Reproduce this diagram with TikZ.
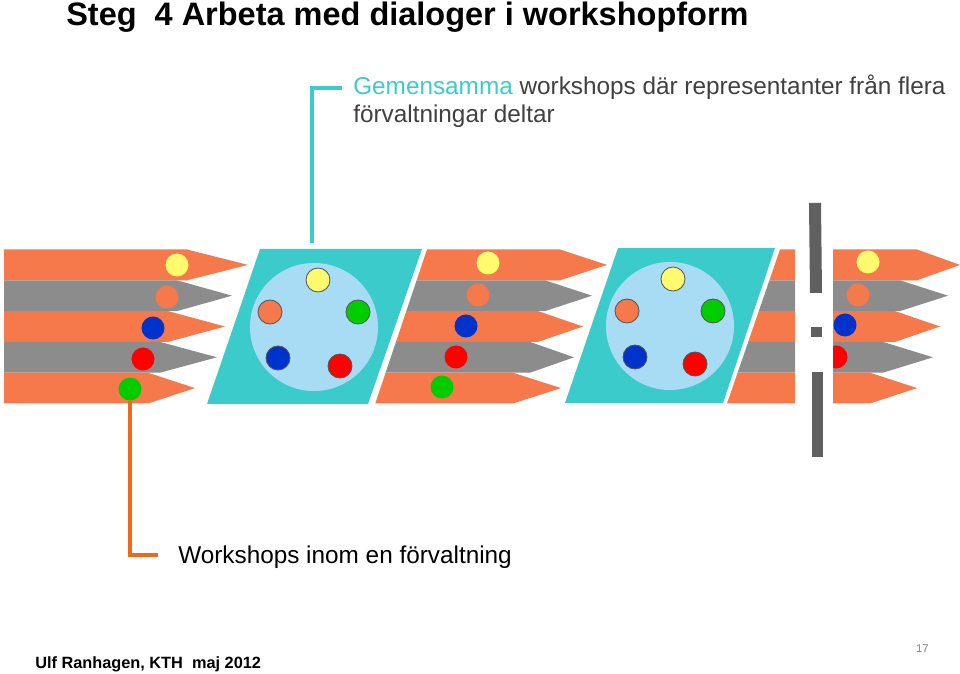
\documentclass[tikz,border=0pt]{standalone}
\usepackage{fontspec}
\setmainfont{Liberation Sans}
\usetikzlibrary{positioning}
\definecolor{StripeOrange}{HTML}{F5794A}
\definecolor{StripeGray}{HTML}{8C8C8C}
\definecolor{PanelTeal}{HTML}{3CCBCB}
\definecolor{PoolBlue}{HTML}{A8DCF5}
\definecolor{DotYellow}{HTML}{FFFA6E}
\definecolor{DotBlue}{HTML}{0033CC}
\definecolor{DotRed}{HTML}{FF0000}
\definecolor{DotGreen}{HTML}{00CC00}
\definecolor{SeatRim}{HTML}{555555}
\definecolor{BreakGray}{HTML}{606060}
\definecolor{LeaderOrange}{HTML}{EE6A1A}
\definecolor{TextGray}{HTML}{404040}
\definecolor{PageGray}{HTML}{808080}

\begin{document}
\begin{tikzpicture}[x=0.025cm, y=-0.025cm,
  token/.style={circle, inner sep=0pt, minimum size=0.575cm},
  seat/.style={circle, inner sep=0pt, minimum size=0.6cm,
               draw=SeatRim, line width=0.6pt},
  pool/.style={circle, inner sep=0pt, minimum size=3.2cm, fill=PoolBlue},
  leader/.style={line width=2.8pt},
  label/.style={anchor=base west, inner sep=0pt,
                font=\fontsize{17.3pt}{20pt}\selectfont}
]
\useasboundingbox (0,0) rectangle (960,674);

% title and footer
\node[anchor=base west, inner sep=0pt,
      font=\bfseries\fontsize{23.1pt}{26pt}\selectfont] (title) at (66,26)
  {Steg~~4 Arbeta med dialoger i workshopform};
\node[anchor=base west, inner sep=0pt,
      font=\bfseries\fontsize{11.6pt}{14pt}\selectfont] (credit) at (35,668)
  {Ulf Ranhagen, KTH~~maj 2012};
\node[anchor=base east, inner sep=0pt, text=PageGray,
      font=\fontsize{8pt}{10pt}\selectfont] (pageno) at (929,652) {17};

% stripes of the first administration
\foreach \r/\col/\bx/\tx in {0/StripeOrange/187/248, 1/StripeGray/177/232,
    2/StripeOrange/168/225, 3/StripeGray/160/217, 4/StripeOrange/148/195}
  \fill[\col] (4,{249.5+30.8*\r}) -- (\bx,{249.5+30.8*\r})
    -- (\tx,{264.9+30.8*\r}) -- (\bx,{280.3+30.8*\r})
    -- (4,{280.3+30.8*\r}) -- cycle;

% stripes after the first joint workshop
\foreach \r/\col/\bx/\tx in {0/StripeOrange/560/607, 1/StripeGray/545/592,
    2/StripeOrange/538/583, 3/StripeGray/530/574, 4/StripeOrange/513/561}{
  \pgfmathsetmacro\ya{249.5+30.8*\r}
  \pgfmathsetmacro\yb{\ya+30.8}
  \fill[\col] ({427-(\ya-249.5)*0.336},\ya) -- (\bx,\ya)
    -- (\tx,{\ya+15.4}) -- (\bx,\yb)
    -- ({427-(\yb-249.5)*0.336},\yb) -- cycle;
}

% stripes after the second joint workshop (cut off)
\foreach \r/\col in {0/StripeOrange, 1/StripeGray, 2/StripeOrange,
    3/StripeGray, 4/StripeOrange}{
  \pgfmathsetmacro\ya{249.5+30.8*\r}
  \pgfmathsetmacro\yb{\ya+30.8}
  \fill[\col] ({780-(\ya-249.5)*0.344},\ya) -- (795,\ya)
    -- (795,\yb) -- ({780-(\yb-249.5)*0.344},\yb) -- cycle;
}

% stripes beyond the break
\foreach \r/\col/\bx/\tx in {0/StripeOrange/917/960, 1/StripeGray/900/948,
    2/StripeOrange/895/940, 3/StripeGray/883/933, 4/StripeOrange/870/917}
  \fill[\col] (833,{249.5+30.8*\r}) -- (\bx,{249.5+30.8*\r})
    -- (\tx,{264.9+30.8*\r}) -- (\bx,{280.3+30.8*\r})
    -- (833,{280.3+30.8*\r}) -- cycle;

% break marks
\fill[BreakGray] (809,203) -- (821,203) -- (822,293) -- (810,293) -- cycle;
\fill[BreakGray] (811,327) rectangle (822,337);
\fill[BreakGray] (812,372) -- (823,372) -- (823,457) -- (812,457) -- cycle;

% joint workshop panels
\fill[PanelTeal] (260,249) -- (422,249) -- (368,404) -- (207,404) -- cycle;
\fill[PanelTeal] (618,248) -- (775,248) -- (723,403) -- (565,403) -- cycle;
\node[pool] (poolA) at (314,327) {};
\node[pool] (poolB) at (670,326) {};

% representatives in the panels
\node[seat, fill=DotYellow]    (sA1) at (318,280) {};
\node[seat, fill=StripeOrange] (sA2) at (270,312) {};
\node[seat, fill=DotGreen]     (sA3) at (358,312) {};
\node[seat, fill=DotBlue]      (sA4) at (278,358) {};
\node[seat, fill=DotRed]       (sA5) at (340,366) {};
\node[seat, fill=DotYellow]    (sB1) at (673,279) {};
\node[seat, fill=StripeOrange] (sB2) at (627,311) {};
\node[seat, fill=DotGreen]     (sB3) at (713,311) {};
\node[seat, fill=DotBlue]      (sB4) at (635,357) {};
\node[seat, fill=DotRed]       (sB5) at (695,364) {};

% participants on the stripes
\node[token, fill=DotYellow]    (tL1) at (177,265) {};
\node[token, fill=StripeOrange] (tL2) at (167,297) {};
\node[token, fill=DotBlue]      (tL3) at (153,328) {};
\node[token, fill=DotRed]       (tL4) at (143,359) {};
\node[token, fill=DotGreen]     (tL5) at (130,389) {};
\node[token, fill=DotYellow]    (tM1) at (488,263) {};
\node[token, fill=StripeOrange] (tM2) at (478,295) {};
\node[token, fill=DotBlue]      (tM3) at (466,326) {};
\node[token, fill=DotRed]       (tM4) at (456,357) {};
\node[token, fill=DotGreen]     (tM5) at (442,387) {};
\node[token, fill=DotYellow]    (tR1) at (868,262) {};
\node[token, fill=StripeOrange] (tR2) at (858,295) {};
\node[token, fill=DotBlue]      (tR3) at (845,325) {};
\begin{scope}
  \clip (833,340) rectangle (870,375);
  \node[token, fill=DotRed] (tR4) at (836,357) {};
\end{scope}

% callouts
\coordinate (panelTop) at (312,243);
\coordinate (tealKnee) at (342,88);
\draw[leader, PanelTeal] (panelTop) |- (tealKnee);
\node[label] (commonA) at (353,95)
  {\textcolor{PanelTeal}{Gemensamma} \textcolor{TextGray}{workshops där representanter från flera}};
\node[label, text=TextGray] (commonB) at (353,123) {förvaltningar deltar};

\coordinate (orangeKnee) at (158,555);
\draw[leader, LeaderOrange] (tL5.south) |- (orangeKnee);
\node[label] (single) at (178,563) {Workshops inom en förvaltning};
\end{tikzpicture}
\end{document}
